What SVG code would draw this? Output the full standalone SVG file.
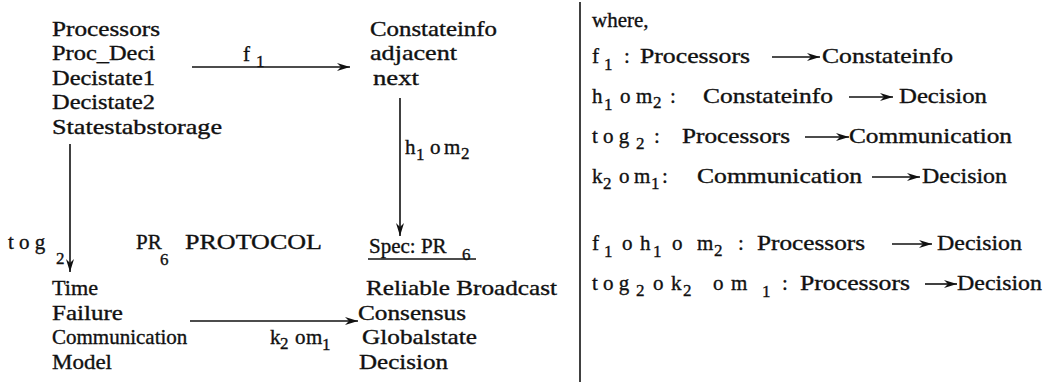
<svg xmlns="http://www.w3.org/2000/svg" width="1049" height="390" viewBox="0 0 1049 390">
<style>
text{font-family:"Liberation Serif","Times New Roman",serif;font-size:21px;fill:#111;stroke:#111;stroke-width:0.35;}
.sub{font-size:17px;}
.ln{stroke:#111;stroke-width:1.6;fill:none;}
</style>
<defs>
<marker id="ah" markerUnits="userSpaceOnUse" markerWidth="14" markerHeight="10" refX="13" refY="5" orient="auto">
<path d="M0,1 L13,5 L0,9 L4,5 z" fill="#111"/>
</marker>
</defs>
<rect width="1049" height="390" fill="#fff"/>
<g id="node-left-top">
<text x="52" y="36" textLength="108" lengthAdjust="spacingAndGlyphs">Processors</text>
<text x="52" y="60" textLength="103" lengthAdjust="spacingAndGlyphs">Proc_Deci</text>
<text x="52" y="85" textLength="103" lengthAdjust="spacingAndGlyphs">Decistate1</text>
<text x="52" y="109" textLength="103" lengthAdjust="spacingAndGlyphs">Decistate2</text>
<text x="52" y="134" textLength="170" lengthAdjust="spacingAndGlyphs">Statestabstorage</text>
</g>
<g id="node-right-top">
<text x="370" y="36" textLength="127" lengthAdjust="spacingAndGlyphs">Constateinfo</text>
<text x="370" y="60" textLength="87" lengthAdjust="spacingAndGlyphs">adjacent</text>
<text x="373" y="85" textLength="46" lengthAdjust="spacingAndGlyphs">next</text>
</g>
<g id="node-protocol">
<text x="8" y="249">t o g</text><text class="sub" x="56" y="264">2</text>
<text x="136" y="249">PR</text><text class="sub" x="160" y="265">6</text>
<text x="185" y="249" textLength="137" lengthAdjust="spacingAndGlyphs">PROTOCOL</text>
</g>
<g id="node-left-bottom">
<text x="52" y="295" textLength="46" lengthAdjust="spacingAndGlyphs">Time</text>
<text x="52" y="320" textLength="71" lengthAdjust="spacingAndGlyphs">Failure</text>
<text x="52" y="344">Communication</text>
<text x="52" y="369" textLength="60" lengthAdjust="spacingAndGlyphs">Model</text>
</g>
<g id="node-spec">
<text x="369" y="253">Spec: PR</text><text class="sub" x="462" y="260">6</text>
<line class="ln" x1="368" y1="259" x2="476" y2="259"/>
<text x="366" y="295" textLength="191" lengthAdjust="spacingAndGlyphs">Reliable Broadcast</text>
<text x="358" y="320" textLength="108" lengthAdjust="spacingAndGlyphs">Consensus</text>
<text x="362" y="344" textLength="115" lengthAdjust="spacingAndGlyphs">Globalstate</text>
<text x="359" y="369" textLength="89" lengthAdjust="spacingAndGlyphs">Decision</text>
</g>
<g id="connectors">
<line class="ln" x1="192" y1="67" x2="350" y2="67" marker-end="url(#ah)"/>
<text x="243" y="61">f</text><text class="sub" x="256" y="67">1</text>
<line class="ln" x1="70" y1="144" x2="70" y2="272" marker-end="url(#ah)"/>
<line class="ln" x1="400" y1="98" x2="400" y2="236" marker-end="url(#ah)"/>
<text x="405" y="154">h</text><text class="sub" x="416" y="160">1</text><text x="430" y="154">o</text><text x="444" y="154">m</text><text class="sub" x="461" y="159">2</text>
<line class="ln" x1="190" y1="321" x2="358" y2="321" marker-end="url(#ah)"/>
<text x="270" y="344">k</text><text class="sub" x="280" y="349">2</text><text x="295" y="344">o</text><text x="306" y="344">m</text><text class="sub" x="322" y="350">1</text>
<line class="ln" x1="580" y1="2" x2="580" y2="382"/>
</g>
<g id="legend">
<text x="592" y="27">where,</text>
<text x="592" y="63">f</text><text class="sub" x="604" y="70">1</text><text x="624" y="63">:</text>
<text x="640" y="63" textLength="110" lengthAdjust="spacingAndGlyphs">Processors</text>
<line class="ln" x1="772" y1="57" x2="820" y2="57" marker-end="url(#ah)"/>
<text x="822" y="63" textLength="131" lengthAdjust="spacingAndGlyphs">Constateinfo</text>

<text x="592" y="103">h</text><text class="sub" x="604" y="110">1</text><text x="620" y="103">o</text><text x="636" y="103">m</text><text class="sub" x="653" y="108">2</text><text x="670" y="103">:</text>
<text x="703" y="103" textLength="130" lengthAdjust="spacingAndGlyphs">Constateinfo</text>
<line class="ln" x1="849" y1="97" x2="893" y2="97" marker-end="url(#ah)"/>
<text x="899" y="103" textLength="88" lengthAdjust="spacingAndGlyphs">Decision</text>

<text x="592" y="143">t o g</text><text class="sub" x="636" y="149">2</text><text x="654" y="143">:</text>
<text x="682" y="143" textLength="108" lengthAdjust="spacingAndGlyphs">Processors</text>
<line class="ln" x1="805" y1="137" x2="849" y2="137" marker-end="url(#ah)"/>
<text x="849" y="143" textLength="163" lengthAdjust="spacingAndGlyphs">Communication</text>

<text x="592" y="183">k</text><text class="sub" x="603" y="189">2</text><text x="619" y="183">o</text><text x="634" y="183">m</text><text class="sub" x="651" y="189">1</text><text x="662" y="183">:</text>
<text x="697" y="183" textLength="165" lengthAdjust="spacingAndGlyphs">Communication</text>
<line class="ln" x1="872" y1="177" x2="920" y2="177" marker-end="url(#ah)"/>
<text x="922" y="183" textLength="85" lengthAdjust="spacingAndGlyphs">Decision</text>

<text x="592" y="250">f</text><text class="sub" x="604" y="257">1</text><text x="622" y="250">o</text><text x="640" y="250">h</text><text class="sub" x="653" y="257">1</text><text x="672" y="250">o</text><text x="697" y="250">m</text><text class="sub" x="714" y="256">2</text><text x="738" y="250">:</text>
<text x="757" y="250" textLength="108" lengthAdjust="spacingAndGlyphs">Processors</text>
<line class="ln" x1="892" y1="244" x2="932" y2="244" marker-end="url(#ah)"/>
<text x="937" y="250" textLength="85" lengthAdjust="spacingAndGlyphs">Decision</text>

<text x="592" y="290">t o g</text><text class="sub" x="636" y="296">2</text><text x="653" y="290">o</text><text x="671" y="290">k</text><text class="sub" x="683" y="296">2</text><text x="713" y="290">o</text><text x="731" y="290">m</text><text class="sub" x="762" y="297">1</text><text x="782" y="290">:</text>
<text x="800" y="290" textLength="110" lengthAdjust="spacingAndGlyphs">Processors</text>
<line class="ln" x1="925" y1="284" x2="957" y2="284" marker-end="url(#ah)"/>
<text x="957" y="290" textLength="85" lengthAdjust="spacingAndGlyphs">Decision</text>
</g>
</svg>
